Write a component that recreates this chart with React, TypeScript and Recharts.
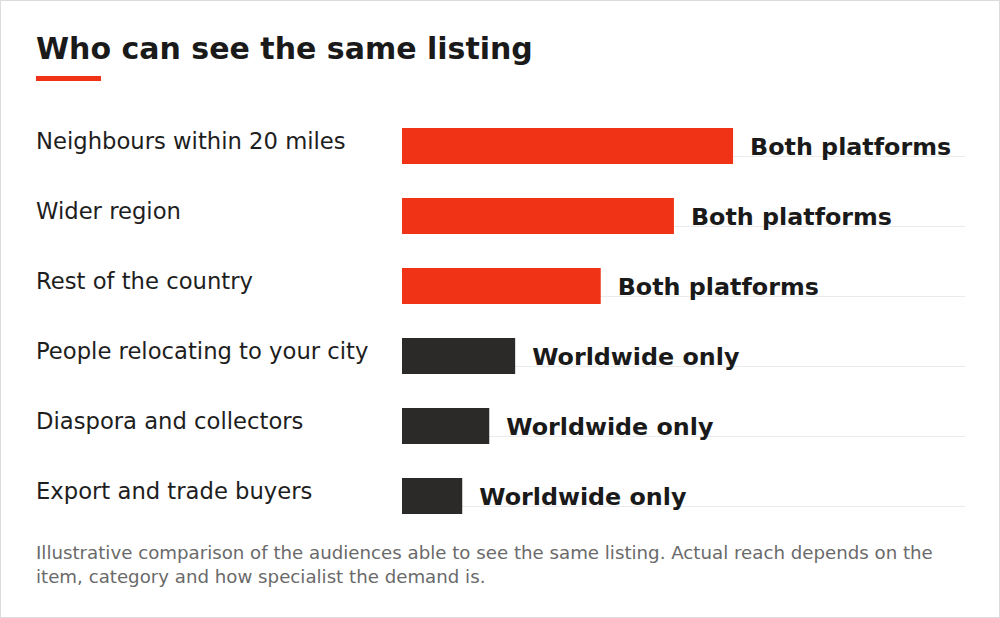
import { BarChart, Bar, XAxis, YAxis, Cell, LabelList } from "recharts";

const categories = [
  "Neighbours within 20 miles",
  "Wider region",
  "Rest of the country",
  "People relocating to your city",
  "Diaspora and collectors",
  "Export and trade buyers",
];
const reach = [58.8, 48.3, 35.3, 20.1, 15.5, 10.7];
const platforms = [
  "Both platforms",
  "Both platforms",
  "Both platforms",
  "Worldwide only",
  "Worldwide only",
  "Worldwide only",
];

const RED = "#f03216";
const DARK = "#2b2a28";
const FONT = "'DejaVu Sans', sans-serif";

const data = categories.map((name, i) => ({ name, reach: reach[i], platform: platforms[i] }));

function CategoryTick(props: any) {
  const { y, payload } = props;
  return (
    <text x={36} y={y + 3} fontSize={22.7} fill="#1e1e1e" fontFamily={FONT}>
      {payload.value}
    </text>
  );
}

function ValueLabel(props: any) {
  const { x, y, width, height, value } = props;
  return (
    <text
      x={Number(x) + Number(width) + 17}
      y={Number(y) + Number(height) / 2 + 9}
      fontSize={23.8}
      fontWeight="bold"
      fill="#1a1a1a"
      fontFamily={FONT}
    >
      {value}
    </text>
  );
}

function TrackLine(props: any) {
  const { x, y, width } = props;
  return <line x1={x} x2={x + width} y1={y + 28.5} y2={y + 28.5} stroke="#ebebeb" strokeWidth={1} />;
}

export default function App() {
  return (
    <div style={{ position: "relative", width: 1000, height: 618, background: "#fff", fontFamily: FONT }}>
      <style>{"body{margin:0}"}</style>
      <BarChart
        width={1000}
        height={618}
        data={data}
        layout="vertical"
        margin={{ top: 111, right: 35, bottom: 87, left: 36 }}
        style={{ position: "absolute", top: 0, left: 0 }}
      >
        <XAxis type="number" domain={[0, 100]} hide />
        <YAxis
          type="category"
          dataKey="name"
          width={366}
          axisLine={false}
          tickLine={false}
          tick={CategoryTick}
        />
        <Bar dataKey="reach" barSize={36} isAnimationActive={false} background={TrackLine}>
          {data.map((d, i) => (
            <Cell key={i} fill={d.platform === "Both platforms" ? RED : DARK} />
          ))}
          <LabelList dataKey="platform" content={ValueLabel} />
        </Bar>
      </BarChart>
      <div
        style={{
          position: "absolute",
          left: 36,
          top: 29,
          fontSize: 30,
          fontWeight: "bold",
          color: "#1a1a1a",
          lineHeight: "40px",
          whiteSpace: "nowrap",
        }}
      >
        Who can see the same listing
      </div>
      <div style={{ position: "absolute", left: 36, top: 76, width: 65, height: 5, background: RED }} />
      <div
        style={{
          position: "absolute",
          left: 36,
          top: 541,
          width: 905,
          fontSize: 18.2,
          lineHeight: "24px",
          color: "#6a6a6a",
        }}
      >
        Illustrative comparison of the audiences able to see the same listing. Actual reach depends on the
        item, category and how specialist the demand is.
      </div>
      <div
        style={{
          position: "absolute",
          inset: 0,
          border: "1px solid #dcdcdc",
          pointerEvents: "none",
        }}
      />
    </div>
  );
}
